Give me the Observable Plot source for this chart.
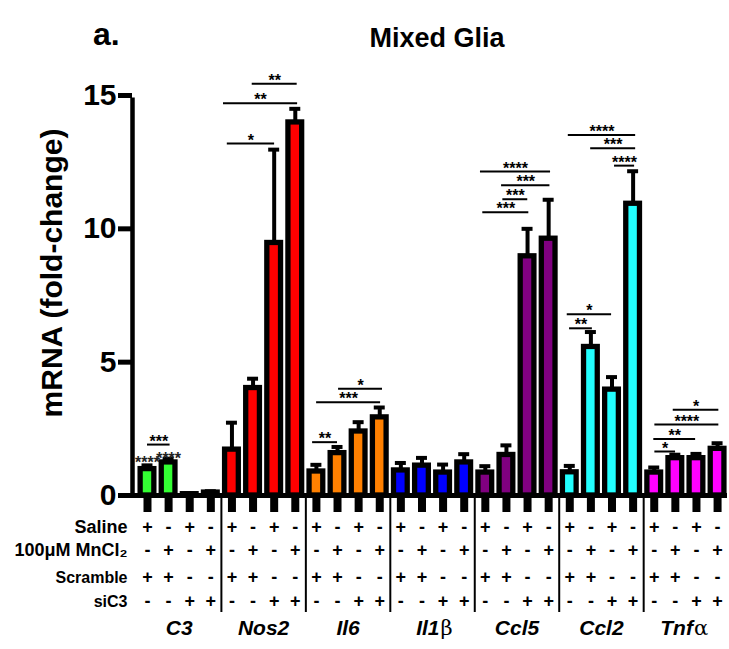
<!DOCTYPE html>
<html>
<head>
<meta charset="utf-8">
<script src="https://cdn.jsdelivr.net/npm/d3@7"></script>
<script src="https://cdn.jsdelivr.net/npm/@observablehq/plot@0.6"></script>
<style>
  body { margin: 0; background: #fff; }
  #wrap { position: relative; width: 729px; height: 649px; font-family: "Liberation Sans", Arial, sans-serif; }
  #panel { position: absolute; left: 93px; top: 18px; font-size: 32px; font-weight: bold; line-height: 1; }
  #title { position: absolute; left: 0; width: 874px; text-align: center; top: 25px; font-size: 27px; font-weight: bold; line-height: 1; }
  #ylabel { position: absolute; left: 52px; top: 273px; transform: translate(-50%, -50%) rotate(-90deg);
            white-space: nowrap; font-size: 30px; font-weight: bold; line-height: 1; }
  #wrap svg { position: absolute; left: 0; top: 0; }
</style>
</head>
<body>
<div id="wrap">
  <div id="panel">a.</div>
  <div id="title">Mixed Glia</div>
  <div id="ylabel">mRNA (fold-change)</div>
</div>
<script>
// ---- data ----
const genes = ["C3", "Nos2", "Il6", "Il1β", "Ccl5", "Ccl2", "Tnfα"];
// gene labels: italic part + upright greek suffix
const geneItalic = ["C3", "Nos2", "Il6", "Il1", "Ccl5", "Ccl2", "Tnf"];
const geneGreek  = ["", "", "", "β", "", "", "α"];
const geneColors = ["#33ff33", "#ff0000", "#ff8000", "#0000ff", "#800080", "#22ffff", "#ff00ff"];

const c3Mean   = [0.99, 1.24, 0.05, 0.11];
const nos2Mean = [1.72, 4.03, 9.47, 13.99];
const il6Mean  = [0.90, 1.59, 2.40, 2.93];
const il1bMean = [0.94, 1.12, 0.86, 1.24];
const ccl5Mean = [0.86, 1.52, 8.97, 9.63];
const ccl2Mean = [0.87, 5.57, 3.97, 10.94];
const tnfaMean = [0.86, 1.40, 1.40, 1.75];

const c3Sem   = [0.14, 0.14, 0.03, 0.05];
const nos2Sem = [1.01, 0.35, 3.50, 0.51];
const il6Sem  = [0.25, 0.23, 0.35, 0.37];
const il1bSem = [0.28, 0.29, 0.30, 0.31];
const ccl5Sem = [0.24, 0.36, 1.03, 1.46];
const ccl2Sem = [0.24, 0.56, 0.47, 1.22];
const tnfaSem = [0.19, 0.13, 0.16, 0.21];

const saline   = ["+", "-", "+", "-"];
const mncl2    = ["-", "+", "-", "+"];
const scramble = ["+", "+", "-", "-"];
const sic3     = ["-", "-", "+", "+"];
const rowLabels = ["Saline", "100μM MnCl₂", "Scramble", "siC3"];

const yTicks = [0, 5, 10, 15];

// significance brackets: gene, from/to bar position within the gene group, height, label
const brackets = [
  {gene: "C3",   a: 0.00, b: 1.07, y: 1.91,  label: "***"},
  {gene: "Nos2", a: -0.22, b: 2.02, y: 13.2, label: "*"},
  {gene: "Nos2", a: -0.40, b: 3.11, y: 14.71, label: "**"},
  {gene: "Nos2", a: 0.96, b: 3.09, y: 15.44, label: "**"},
  {gene: "Il6",  a: -0.18, b: 1.00, y: 2.0,  label: "**"},
  {gene: "Il6",  a: 0.01, b: 3.04, y: 3.5,   label: "***"},
  {gene: "Il6",  a: 1.05, b: 3.13, y: 4.0,   label: "*"},
  {gene: "Ccl5", a: -0.12, b: 2.06, y: 10.62, label: "***"},
  {gene: "Ccl5", a: 0.83, b: 2.01, y: 11.11, label: "***"},
  {gene: "Ccl5", a: 0.77, b: 3.06, y: 11.63, label: "***"},
  {gene: "Ccl5", a: -0.23, b: 3.09, y: 12.15, label: "****"},
  {gene: "Ccl2", a: -0.01, b: 1.07, y: 6.27, label: "**"},
  {gene: "Ccl2", a: -0.12, b: 1.98, y: 6.8,  label: "*"},
  {gene: "Ccl2", a: 2.12, b: 3.07, y: 12.37, label: "****"},
  {gene: "Ccl2", a: 0.99, b: 3.12, y: 13.02, label: "***"},
  {gene: "Ccl2", a: -0.07, b: 3.12, y: 13.52, label: "****"},
  {gene: "Tnfα", a: 0.03, b: 1.01, y: 1.65, label: "*"},
  {gene: "Tnfα", a: -0.02, b: 1.96, y: 2.12, label: "**"},
  {gene: "Tnfα", a: 0.03, b: 3.06, y: 2.66, label: "****"},
  {gene: "Tnfα", a: 0.90, b: 3.06, y: 3.22, label: "*"}
];
// stand-alone significance marks above single bars
const barMarks = [
  {gene: "C3", a: 0, y: 1.11, label: "****"},
  {gene: "C3", a: 1, y: 1.27, label: "****"}
];

// ---- build ----
const means = [c3Mean, nos2Mean, il6Mean, il1bMean, ccl5Mean, ccl2Mean, tnfaMean];
const sems = [c3Sem, nos2Sem, il6Sem, il1bSem, ccl5Sem, ccl2Sem, tnfaSem];
const bars = genes.flatMap((g, gi) => means[gi].map((m, j) => ({
  gene: g, j, i: gi * 4 + j, mean: m, err: m + sems[gi][j]
})));
const gIndex = g => genes.indexOf(g) * 4;
const rows = [saline, mncl2, scramble, sic3];
const rowDy = [37, 60, 87, 111];
const rowSize = [18, 18, 16, 16];

const xDomain = [-0.71, 27.47];
const font = "Liberation Sans, Arial, sans-serif";

const tableMarks = rows.flatMap((r, k) => [
  Plot.text(bars, {x: "i", frameAnchor: "bottom", dy: rowDy[k], text: d => r[d.j],
    fontSize: 18, fontWeight: "bold", fill: "black"}),
  Plot.text([rowLabels[k]], {frameAnchor: "bottom-left", dx: -5, dy: rowDy[k], textAnchor: "end",
    fontSize: rowSize[k], fontWeight: "bold", fill: "black"})
]);

const labelData = genes.map((g, gi) => ({gi, it: geneItalic[gi], gr: geneGreek[gi]}));
const plainLabels = labelData.filter(d => !d.gr);
const greekLabels = labelData.filter(d => d.gr);

const chart = Plot.plot({
  width: 729,
  height: 649,
  marginTop: 95,
  marginBottom: 154,
  marginLeft: 132,
  marginRight: 2,
  style: {fontFamily: font, background: "transparent", overflow: "visible"},
  x: {type: "linear", domain: xDomain, axis: null},
  y: {domain: [0, 15], axis: null},
  color: {domain: genes, range: geneColors},
  marks: [
    // error bars
    Plot.ruleX(bars, {x: "i", y1: "mean", y2: "err", stroke: "black", strokeWidth: 4}),
    Plot.ruleY(bars, {y: "err", x1: d => d.i - 0.26, x2: d => d.i + 0.26, stroke: "black", strokeWidth: 4}),
    // bars
    Plot.rect(bars, {x1: d => d.i - 0.325, x2: d => d.i + 0.325, y1: 0, y2: "mean",
      fill: "gene", stroke: "black", strokeWidth: 5.3}),
    // x ticks and group separators
    Plot.ruleX(bars, {x: "i", y1: 0, y2: 0, insetTop: 0, insetBottom: -17, stroke: "black", strokeWidth: 8}),
    Plot.ruleX(d3.range(1, genes.length), {x: d => d * 4 - 0.5, y1: 0, y2: 0, insetTop: 3, insetBottom: -117,
      stroke: "black", strokeWidth: 2}),
    // axes lines
    Plot.ruleY([0], {stroke: "black", strokeWidth: 5}),
    Plot.ruleX([xDomain[0]], {y1: 0, y2: 15, insetBottom: -2.5, insetTop: -2, stroke: "black", strokeWidth: 4.5}),
    Plot.ruleY(yTicks, {y: d => d, x1: xDomain[0], x2: xDomain[0], insetLeft: -14, stroke: "black", strokeWidth: 5}),
    Plot.text(yTicks, {x: xDomain[0], y: d => d, text: d => String(d), textAnchor: "end", dx: -16,
      fontSize: 30, fontWeight: "bold", fill: "black"}),
    // significance
    Plot.ruleY(brackets, {y: "y", x1: d => gIndex(d.gene) + d.a, x2: d => gIndex(d.gene) + d.b,
      stroke: "black", strokeWidth: 2}),
    Plot.text(brackets, {x: d => gIndex(d.gene) + (d.a + d.b) / 2, y: "y", text: "label", dy: -3,
      fontSize: 16, fontWeight: "bold", fill: "black"}),
    Plot.text(barMarks, {x: d => gIndex(d.gene) + d.a, y: "y", text: "label", dy: -3,
      fontSize: 16, fontWeight: "bold", fill: "#222"}),
    // table
    ...tableMarks,
    Plot.text(plainLabels, {x: d => d.gi * 4 + 1.5, frameAnchor: "bottom", dy: 139, text: "it",
      fontSize: 21, fontWeight: "bold", fontStyle: "italic", fill: "black"}),
    Plot.text(greekLabels, {x: d => d.gi * 4 + 1.5, frameAnchor: "bottom", dy: 139, dx: 7, text: "it",
      textAnchor: "end", fontSize: 21, fontWeight: "bold", fontStyle: "italic", fill: "black"}),
    Plot.text(greekLabels, {x: d => d.gi * 4 + 1.5, frameAnchor: "bottom", dy: 139, dx: 8, text: "gr",
      textAnchor: "start", fontSize: 21, fontFamily: "DejaVu Serif, serif", fill: "black"})
  ]
});
document.getElementById("wrap").prepend(chart);
</script>
</body>
</html>
